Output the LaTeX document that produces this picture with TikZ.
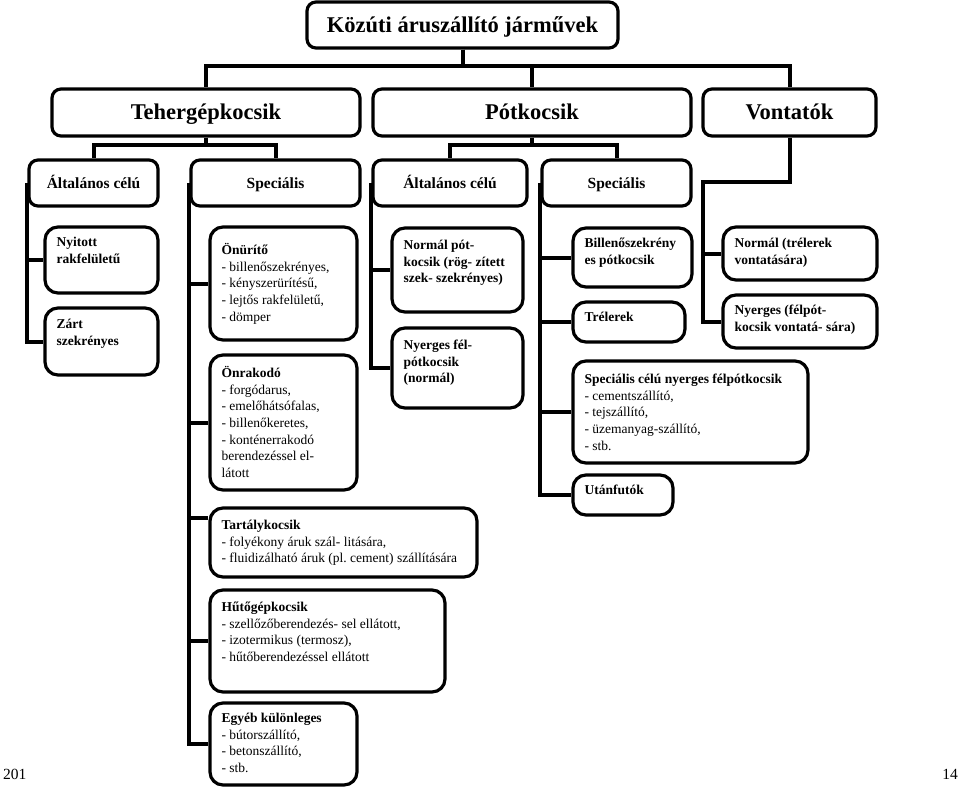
\documentclass[tikz,border=0pt]{standalone}
\usepackage{fontspec}
\setmainfont{Liberation Serif}
\usetikzlibrary{fit,calc}
\frenchspacing
\newcommand\chtext[4]{% name, offset, width, content
  \node[txt, anchor=base west] (#1t) at ($(#1.north west)+(13,#2)$)
    {\parbox[t]{#3pt}{\raggedright\fontsize{13.5}{16.7}\selectfont #4}};}
\begin{document}
\begin{tikzpicture}[x=1pt, y=-1pt,
  box/.style={draw, line width=3.2pt, rounded corners=9pt, fill=white, inner sep=0pt},
  cbox/.style={box, rounded corners=13pt},
  lvone/.style={inner sep=0pt, anchor=base, font=\fontsize{22.5}{27}\selectfont\bfseries},
  lvthree/.style={inner sep=0pt, anchor=base, font=\fontsize{15.5}{18}\selectfont\bfseries},
  txt/.style={inner sep=0pt},
  conn/.style={line width=4pt}]
\useasboundingbox (0,0) rectangle (960,789);

% top levels
\node[box, fit={(307,2) (618,48)}] (title) {};
\node[box, fit={(52,89) (360,136)}] (teher) {};
\node[box, fit={(373,89) (691,136)}] (pot) {};
\node[box, fit={(703,89) (876,136)}] (vont) {};
\node[lvone] (titlet) at ($(title.north)+(0,32)$) {Közúti áruszállító járművek};
\node[lvone] (tehert) at ($(teher.north)+(0,32)$) {Tehergépkocsik};
\node[lvone] (pott) at ($(pot.north)+(0,32)$) {Pótkocsik};
\node[lvone] (vontt) at ($(vont.north)+(0,32)$) {Vontatók};

\node[box, fit={(29,160) (158,206)}] (tA) {};
\node[box, fit={(191,160) (360,206)}] (tS) {};
\node[box, fit={(373,160) (527,206)}] (pA) {};
\node[box, fit={(542,160) (691,206)}] (pS) {};
\node[lvthree] (tAt) at ($(tA.north)+(0,30)$) {Általános célú};
\node[lvthree] (tSt) at ($(tS.north)+(0,30)$) {Speciális};
\node[lvthree] (pAt) at ($(pA.north)+(0,30)$) {Általános célú};
\node[lvthree] (pSt) at ($(pS.north)+(0,30)$) {Speciális};

% connectors between levels
\draw[conn] (title.south) |- ([yshift=21pt]teher.north) -- (teher.north);
\draw[conn] (title.south) |- ([yshift=21pt]pot.north) -- (pot.north);
\draw[conn] (title.south) |- ([yshift=21pt]vont.north) -- (vont.north);
\draw[conn] (teher.south) |- ([yshift=13pt]tA.north) -- (tA.north);
\draw[conn] (teher.south) |- ([yshift=13pt]tS.north) -- (tS.north);
\draw[conn] (pot.south) |- ([yshift=13pt]pA.north) -- (pA.north);
\draw[conn] (pot.south) |- ([yshift=13pt]pS.north) -- (pS.north);

% child boxes
\node[cbox, fit={(45,227) (158,293)}] (nyit) {};
\node[cbox, fit={(45,308) (158,375)}] (zart) {};
\node[cbox, fit={(210,227) (357,340)}] (onur) {};
\node[cbox, fit={(210,355) (357,490)}] (onrak) {};
\node[cbox, fit={(210,508) (477,577)}] (tart) {};
\node[cbox, fit={(210,590) (445,692)}] (huto) {};
\node[cbox, fit={(210,703) (357,785)}] (egyeb) {};
\node[cbox, fit={(392,228) (523,312)}] (npot) {};
\node[cbox, fit={(392,328) (523,408)}] (nyfel) {};
\node[cbox, fit={(573,228) (692,287)}] (bill) {};
\node[cbox, fit={(573,302) (685,342)}] (trel) {};
\node[cbox, fit={(573,361) (808,463)}] (spc) {};
\node[cbox, fit={(573,475) (673,515)}] (utan) {};
\node[cbox, fit={(723,227) (877,280)}] (vnorm) {};
\node[cbox, fit={(723,295) (877,348)}] (vnyer) {};

% child texts
\chtext{nyit}{21}{140}{\textbf{Nyitott}\\\textbf{rakfelületű}}
\chtext{zart}{22}{140}{\textbf{Zárt}\\\textbf{szekrényes}}
\chtext{onur}{29}{200}{\textbf{Önürítő}\\- billenőszekrényes,\\- kényszerürítésű,\\- lejtős rakfelületű,\\- dömper}
\chtext{onrak}{24}{200}{\textbf{Önrakodó}\\- forgódarus,\\- emelőhátsófalas,\\- billenőkeretes,\\- konténerrakodó\\berendezéssel el-\\látott}
\chtext{tart}{23}{320}{\textbf{Tartálykocsik}\\- folyékony áruk szál- litására,\\- fluidizálható áruk (pl. cement) szállítására}
\chtext{huto}{23}{300}{\textbf{Hűtőgépkocsik}\\- szellőzőberendezés- sel ellátott,\\- izotermikus (termosz),\\- hűtőberendezéssel ellátott}
\chtext{egyeb}{21}{200}{\textbf{Egyéb különleges}\\- bútorszállító,\\- betonszállító,\\- stb.}
\chtext{npot}{23}{160}{\textbf{Normál pót-}\\\textbf{kocsik (rög- zített}\\\textbf{szek- szekrényes)}}
\chtext{nyfel}{23}{160}{\textbf{Nyerges fél-}\\\textbf{pótkocsik}\\\textbf{(normál)}}
\chtext{bill}{21}{160}{\textbf{Billenőszekrény}\\\textbf{es pótkocsik}}
\chtext{trel}{21}{160}{\textbf{Trélerek}}
\chtext{spc}{24}{300}{\textbf{Speciális célú nyerges félpótkocsik}\\- cementszállító,\\- tejszállító,\\- üzemanyag-szállító,\\- stb.}
\chtext{utan}{21}{160}{\textbf{Utánfutók}}
\chtext{vnorm}{22}{180}{\textbf{Normál (trélerek}\\\textbf{vontatására)}}
\chtext{vnyer}{21}{180}{\textbf{Nyerges (félpót-}\\\textbf{kocsik vontatá- sára)}}

% branch connectors
\draw[conn] (tA.west) |- (nyit.west);
\draw[conn] (tA.west) |- (zart.west);
\draw[conn] (tS.west) |- (onur.west);
\draw[conn] (tS.west) |- (onrak.west);
\draw[conn] (tS.west) |- ([yshift=24.5pt]tart.west);
\draw[conn] (tS.west) |- (huto.west);
\draw[conn] (tS.west) |- (egyeb.west);
\draw[conn] (pA.west) |- (npot.west);
\draw[conn] (pA.west) |- (nyfel.west);
\draw[conn] (pS.west) |- (bill.west);
\draw[conn] (pS.west) |- (trel.west);
\draw[conn] (pS.west) |- (spc.west);
\draw[conn] (pS.west) |- (utan.west);
\coordinate (vj) at (703,182);
\draw[conn] (vont.south) |- (vj) |- (vnorm.west);
\draw[conn] (vj) |- (vnyer.west);

% page numbers
\node[txt, anchor=base west, font=\fontsize{15.5}{18}\selectfont] (pleft) at (3,779) {201};
\node[txt, anchor=base east, font=\fontsize{15.5}{18}\selectfont] (pright) at (958,779) {14};
\end{tikzpicture}
\end{document}
